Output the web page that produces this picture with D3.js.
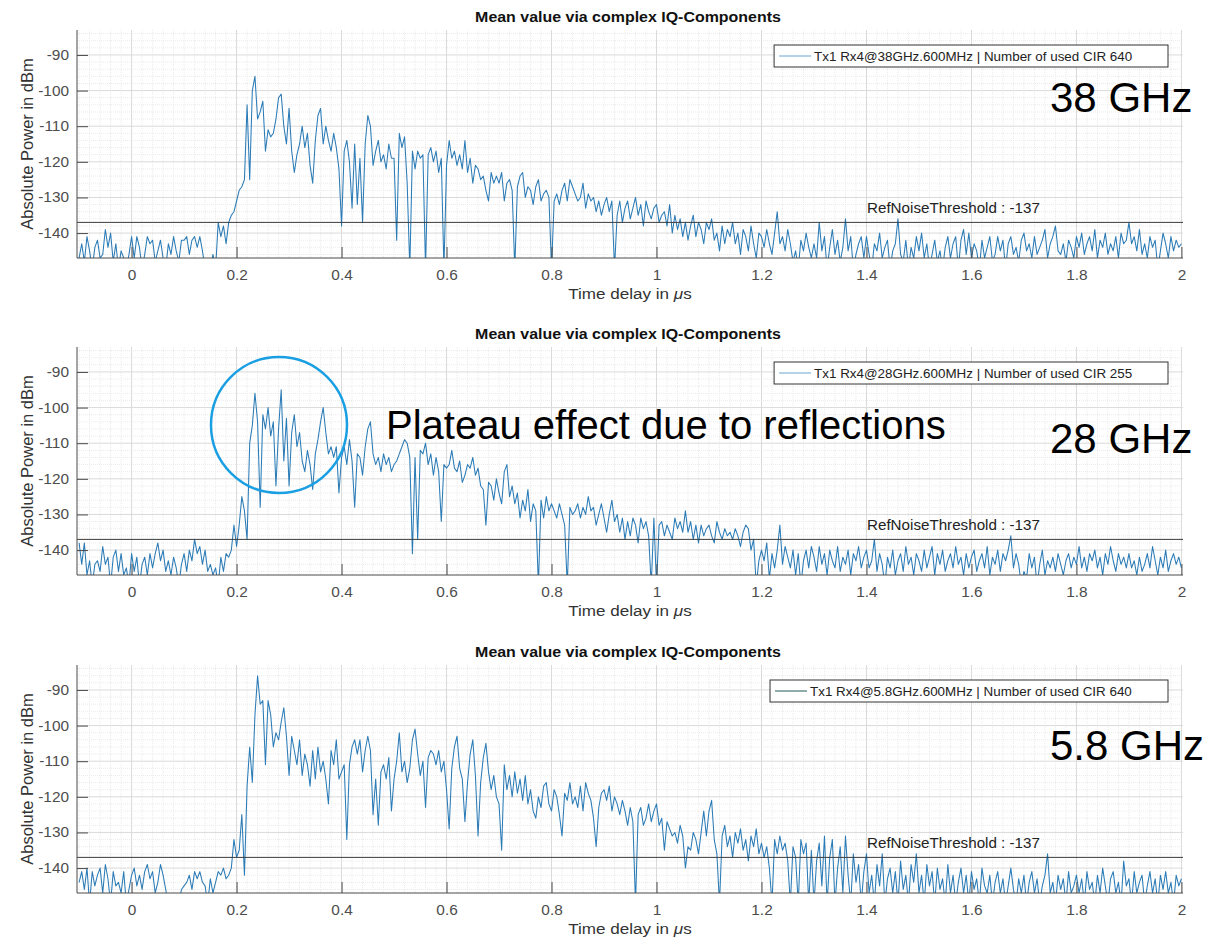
<!DOCTYPE html>
<html><head><meta charset="utf-8">
<script src="https://cdn.jsdelivr.net/npm/d3@7/dist/d3.min.js"></script>
<style>body{margin:0;background:#fff}svg{display:block}</style>
</head><body><svg id="c" width="1207" height="941"></svg>
<script>
// ---------------- DATA ----------------
const timeStart = -0.1;      // first sample, µs
const timeStep = 0.005;      // sample spacing, µs
const xTickValues = [0, 0.2, 0.4, 0.6, 0.8, 1, 1.2, 1.4, 1.6, 1.8, 2];
const xTickLabels = ["0", "0.2", "0.4", "0.6", "0.8", "1", "1.2", "1.4", "1.6", "1.8", "2"];
const yTickValues = [-140, -130, -120, -110, -100, -90];
const yTickLabels = ["-140", "-130", "-120", "-110", "-100", "-90"];
const chartTitle = "Mean value via complex IQ-Components";
const xAxisLabel = "Time delay in ";
const yAxisLabel = "Absolute Power in dBm";
const legendLabels = [
  "Tx1 Rx4@38GHz.600MHz | Number of used CIR 640",
  "Tx1 Rx4@28GHz.600MHz | Number of used CIR 255",
  "Tx1 Rx4@5.8GHz.600MHz | Number of used CIR 640"
];
const bandLabels = ["38 GHz", "28 GHz", "5.8 GHz"];
const noiseThreshold = -137;
const thresholdLabel = "RefNoiseThreshold : -137";
const plateauLabel = "Plateau effect due to reflections";

// 38 GHz power delay profile (dBm), one row per 0.1 µs
const power38 = [
  -147,-143,-148,-141,-145,-150,-144,-142,-147,-146,-139,-144,-140,-148,-143,-150,-145,-147,-150,-146,
  -141,-147,-141,-144,-150,-146,-141,-143,-142,-148,-145,-142,-147,-150,-143,-146,-141,-145,-148,-142,
  -142,-141,-146,-142,-141,-144,-141,-145,-150,-148,-150,-146,-150,-137,-141,-138,-143,-137,-135,-134,
  -131,-128,-127,-125,-104,-125,-100,-96,-108,-106,-103,-117,-111,-113,-112,-108,-102,-101,-110,-115,
  -105,-117,-123,-118,-115,-110,-116,-112,-121,-126,-114,-107,-105,-115,-110,-114,-117,-112,-116,-122,
  -138,-117,-114,-120,-133,-115,-132,-119,-137,-115,-107,-110,-121,-117,-114,-120,-118,-122,-115,-119,
  -119,-142,-112,-116,-113,-126,-150,-117,-122,-117,-119,-118,-150,-118,-116,-120,-117,-123,-119,-150,
  -121,-114,-119,-117,-121,-118,-122,-114,-123,-119,-126,-121,-122,-125,-124,-128,-131,-123,-126,-124,
  -126,-123,-131,-126,-125,-128,-150,-127,-124,-123,-130,-127,-128,-132,-127,-125,-131,-129,-128,-130,
  -150,-131,-129,-132,-128,-126,-131,-125,-127,-129,-131,-130,-126,-133,-129,-131,-130,-134,-131,-135,
  -132,-130,-134,-131,-150,-135,-131,-137,-133,-131,-136,-133,-130,-135,-132,-138,-131,-134,-136,-133,
  -132,-137,-135,-134,-138,-132,-140,-135,-139,-136,-141,-137,-142,-138,-135,-141,-137,-139,-143,-137,
  -139,-136,-142,-140,-145,-138,-143,-139,-141,-137,-143,-140,-146,-139,-141,-145,-138,-143,-147,-140,
  -141,-144,-139,-143,-146,-140,-134,-143,-141,-145,-139,-143,-148,-145,-150,-142,-145,-140,-144,-147,
  -143,-147,-137,-145,-141,-150,-144,-139,-146,-142,-148,-144,-136,-145,-141,-150,-146,-143,-141,-147,
  -141,-146,-150,-143,-145,-140,-147,-144,-142,-150,-145,-143,-136,-146,-148,-142,-150,-144,-147,-141,
  -145,-140,-147,-143,-150,-146,-142,-148,-145,-150,-144,-141,-147,-143,-141,-150,-142,-139,-146,-140,
  -147,-143,-145,-150,-142,-147,-144,-141,-148,-146,-141,-145,-142,-150,-143,-141,-146,-144,-148,-142,
  -140,-145,-143,-147,-141,-146,-144,-142,-139,-147,-143,-141,-138,-145,-146,-143,-148,-142,-144,-147,
  -141,-144,-140,-146,-143,-141,-145,-139,-147,-142,-144,-140,-146,-143,-145,-141,-147,-140,-143,-142,
  -137,-143,-141,-145,-139,-146,-143,-147,-141,-144,-142,-150,-145,-140,-143,-147,-141,-145,-142,-144,
  -143
];

// 28 GHz power delay profile (dBm)
const power28 = [
  -138,-144,-138,-147,-143,-150,-144,-143,-146,-139,-144,-142,-150,-142,-140,-146,-141,-147,-145,-150,
  -141,-146,-142,-150,-144,-142,-147,-141,-145,-141,-138,-143,-140,-146,-143,-147,-142,-145,-150,-144,
  -141,-146,-140,-143,-137,-141,-139,-144,-140,-146,-144,-147,-145,-150,-142,-146,-141,-142,-140,-133,
  -139,-133,-125,-129,-137,-110,-105,-96,-104,-128,-102,-106,-100,-108,-104,-122,-106,-95,-115,-103,
  -122,-107,-102,-111,-107,-115,-118,-112,-116,-123,-113,-109,-104,-100,-107,-113,-111,-114,-111,-124,
  -114,-111,-116,-109,-115,-128,-113,-114,-119,-111,-106,-104,-113,-116,-114,-118,-113,-116,-114,-118,
  -116,-115,-113,-111,-109,-110,-114,-141,-114,-137,-112,-113,-110,-116,-113,-119,-114,-118,-132,-116,
  -117,-116,-112,-117,-118,-115,-121,-119,-116,-117,-114,-119,-117,-122,-123,-133,-121,-122,-126,-120,
  -124,-127,-118,-116,-125,-122,-127,-124,-131,-126,-129,-123,-132,-127,-129,-150,-126,-131,-125,-129,
  -127,-129,-131,-127,-130,-133,-150,-128,-130,-129,-127,-131,-128,-130,-125,-129,-128,-133,-130,-127,
  -131,-135,-130,-126,-132,-130,-135,-131,-137,-132,-136,-131,-133,-138,-131,-134,-132,-136,-150,-131,
  -150,-133,-132,-136,-133,-135,-137,-131,-134,-132,-135,-129,-135,-132,-137,-133,-138,-133,-136,-134,
  -133,-136,-138,-132,-135,-137,-134,-136,-135,-137,-134,-136,-139,-135,-133,-134,-140,-137,-150,-143,
  -140,-143,-138,-148,-141,-145,-140,-133,-144,-139,-142,-145,-140,-147,-141,-150,-143,-140,-145,-139,
  -142,-146,-139,-144,-141,-147,-140,-143,-145,-139,-146,-142,-144,-140,-147,-141,-143,-139,-145,-142,
  -140,-145,-143,-137,-146,-141,-144,-150,-142,-145,-140,-147,-143,-141,-146,-139,-144,-142,-147,-141,
  -143,-146,-140,-145,-142,-139,-147,-141,-144,-140,-146,-143,-141,-145,-139,-144,-142,-147,-141,-145,
  -142,-140,-146,-143,-141,-145,-139,-147,-142,-144,-140,-146,-141,-143,-140,-136,-145,-141,-144,-150,
  -146,-148,-141,-145,-142,-150,-144,-140,-147,-143,-145,-142,-146,-141,-144,-147,-143,-141,-145,-142,
  -144,-139,-145,-142,-146,-141,-143,-140,-145,-142,-147,-141,-144,-139,-143,-146,-141,-144,-142,-145,
  -141,-145,-143,-147,-142,-146,-144,-141,-145,-139,-143,-147,-142,-145,-140,-146,-143,-141,-144,-142,
  -145
];

// 5.8 GHz power delay profile (dBm)
const power58 = [
  -144,-141,-146,-140,-150,-141,-145,-142,-140,-147,-139,-143,-150,-141,-145,-144,-147,-141,-150,-146,
  -142,-140,-145,-142,-146,-141,-139,-143,-141,-147,-144,-139,-142,-146,-150,-150,-148,-150,-150,-146,
  -145,-144,-142,-146,-141,-143,-141,-144,-145,-150,-143,-147,-144,-141,-142,-140,-143,-142,-140,-132,
  -137,-135,-125,-142,-117,-106,-116,-97,-86,-94,-93,-111,-93,-97,-106,-102,-104,-99,-95,-103,
  -114,-103,-107,-111,-104,-114,-108,-111,-117,-107,-115,-106,-113,-110,-115,-122,-107,-111,-104,-115,
  -113,-111,-132,-111,-106,-104,-108,-104,-113,-107,-103,-107,-125,-115,-128,-113,-111,-115,-109,-124,
  -115,-110,-102,-113,-110,-116,-112,-104,-101,-108,-114,-110,-123,-109,-107,-108,-111,-107,-113,-110,
  -118,-129,-112,-106,-103,-112,-115,-127,-116,-108,-104,-114,-131,-116,-109,-105,-113,-118,-114,-120,
  -122,-135,-111,-118,-114,-120,-113,-119,-115,-121,-114,-122,-118,-124,-126,-120,-123,-117,-116,-122,
  -124,-118,-120,-125,-131,-119,-121,-116,-122,-120,-123,-117,-124,-116,-119,-121,-126,-134,-123,-119,
  -118,-121,-117,-124,-120,-122,-125,-121,-124,-128,-123,-127,-150,-125,-123,-128,-126,-122,-127,-124,
  -122,-128,-126,-135,-127,-129,-131,-130,-133,-128,-131,-140,-134,-135,-130,-132,-136,-130,-124,-131,
  -124,-121,-132,-136,-150,-131,-128,-134,-131,-137,-130,-133,-129,-135,-132,-138,-131,-134,-129,-136,
  -133,-137,-134,-140,-150,-132,-136,-131,-135,-133,-138,-150,-134,-137,-150,-132,-136,-133,-150,-135,
  -150,-138,-133,-145,-131,-150,-137,-132,-150,-140,-134,-147,-131,-142,-150,-136,-144,-139,-150,-141,
  -136,-147,-142,-150,-139,-145,-136,-150,-143,-140,-147,-141,-150,-138,-146,-142,-150,-139,-144,-136,
  -147,-142,-150,-139,-145,-141,-150,-140,-146,-143,-150,-139,-147,-142,-150,-144,-140,-147,-142,-150,
  -141,-146,-143,-150,-140,-145,-147,-142,-150,-144,-141,-147,-143,-150,-145,-140,-146,-150,-143,-147,
  -142,-150,-144,-141,-147,-143,-150,-145,-142,-136,-147,-144,-150,-142,-146,-143,-150,-141,-147,-145,
  -142,-147,-143,-150,-141,-146,-144,-150,-142,-147,-140,-145,-150,-143,-141,-147,-144,-150,-138,-145,
  -143,-150,-141,-147,-144,-142,-150,-145,-141,-147,-143,-150,-142,-146,-141,-147,-144,-150,-142,-145,
  -143
];

// ---------------- LAYOUT / STYLE ----------------
const series = [power38, power28, power58];
const panelTops = [30, 347, 665];
const plotH = 228, plotL = 77, plotR = 1183;
const SX = 1.1; // horizontal stretch of the original bitmap text
const traceColor = "#2b7bb6";
const legendColors = ["#6aa6d0", "#6aa6d0", "#1f5a55"];
const font = "'Liberation Sans', Arial, Helvetica, sans-serif";

const svg = d3.select("#c");
svg.append("rect").attr("width", 1207).attr("height", 941).attr("fill", "#fff");

function stretch(sel, f) {
  sel.each(function () {
    const L = this.getComputedTextLength();
    this.setAttribute("textLength", (L * f).toFixed(1));
    this.setAttribute("lengthAdjust", "spacingAndGlyphs");
  });
  return sel;
}

const x = d3.scaleLinear().domain([-0.104, 2.003]).range([plotL, plotR]);
const minorX = d3.range(-100, 2001, 20).map(v => v / 1000).filter(v => Math.abs(Math.round(v * 5) - v * 5) > 1e-6);
const minorY = d3.range(-146, -83, 2).filter(v => v % 10 !== 0);

series.forEach((vals, p) => {
  const top = panelTops[p], bottom = top + plotH;
  const y = d3.scaleLinear().domain([-147, -83]).range([bottom, top]);
  const g = svg.append("g");

  // minor grid
  g.append("g").selectAll("line").data(minorX).join("line")
    .attr("x1", d => x(d)).attr("x2", d => x(d)).attr("y1", top).attr("y2", bottom)
    .attr("stroke", "#ebebeb").attr("stroke-width", 1).attr("stroke-dasharray", "1,1");
  g.append("g").selectAll("line").data(minorY).join("line")
    .attr("x1", plotL).attr("x2", plotR).attr("y1", d => y(d)).attr("y2", d => y(d))
    .attr("stroke", "#ebebeb").attr("stroke-width", 1).attr("stroke-dasharray", "1,1");
  // major grid
  g.append("g").selectAll("line").data(xTickValues).join("line")
    .attr("x1", d => x(d)).attr("x2", d => x(d)).attr("y1", top).attr("y2", bottom)
    .attr("stroke", "#dadada").attr("stroke-width", 1);
  g.append("g").selectAll("line").data(yTickValues).join("line")
    .attr("x1", plotL).attr("x2", plotR).attr("y1", d => y(d)).attr("y2", d => y(d))
    .attr("stroke", "#dadada").attr("stroke-width", 1);

  // clip
  const cid = "clip" + p;
  svg.append("clipPath").attr("id", cid).append("rect")
    .attr("x", plotL).attr("y", top).attr("width", plotR - plotL).attr("height", plotH);

  // trace
  const line = d3.line().x((d, i) => x(timeStart + i * timeStep)).y(d => y(d));
  g.append("path").datum(vals).attr("d", line)
    .attr("fill", "none").attr("stroke", traceColor).attr("stroke-width", 1.05)
    .attr("stroke-linejoin", "round").attr("clip-path", `url(#${cid})`);

  // threshold
  g.append("line").attr("x1", plotL).attr("x2", plotR)
    .attr("y1", y(noiseThreshold)).attr("y2", y(noiseThreshold))
    .attr("stroke", "#3a3a3a").attr("stroke-width", 1);
  stretch(g.append("text").attr("x", 867).attr("y", y(noiseThreshold) - 9)
    .attr("font-family", font).attr("font-size", 13.8).attr("fill", "#222")
    .text(thresholdLabel), SX);

  // axes
  const yAxis = d3.axisLeft(y).tickValues(yTickValues).tickFormat((d, i) => yTickLabels[i])
    .tickSizeInner(-11).tickSizeOuter(0).tickPadding(8);
  const ya = g.append("g").attr("transform", `translate(${plotL},0)`).call(yAxis);
  const xAxis = d3.axisBottom(x).tickValues(xTickValues).tickFormat((d, i) => xTickLabels[i])
    .tickSizeInner(-11).tickSizeOuter(0).tickPadding(19);
  const xa = g.append("g").attr("transform", `translate(0,${bottom})`).call(xAxis);
  [ya, xa].forEach(a => {
    a.select(".domain").attr("stroke", "#4a4a4a");
    a.selectAll(".tick line").attr("stroke", "#4a4a4a");
    a.selectAll(".tick text").attr("font-family", font).attr("font-size", 14).attr("fill", "#4d4d4d");
  });
  ya.select(".domain").attr("d", `M0,${top}V${bottom}`);
  xa.select(".domain").attr("d", `M${plotL},0H${plotR}`);
  ya.selectAll(".tick text").each(function () { stretch(d3.select(this), SX); });
  xa.selectAll(".tick text").attr("dy", "0.2em").each(function () { stretch(d3.select(this), SX); });

  // title
  stretch(g.append("text").attr("x", 628).attr("y", top - 8).attr("text-anchor", "middle")
    .attr("font-family", font).attr("font-size", 14.5).attr("font-weight", "bold").attr("fill", "#111")
    .text(chartTitle), SX);

  // x label
  const xl = g.append("text").attr("x", 630).attr("y", bottom + 41).attr("text-anchor", "middle")
    .attr("font-family", font).attr("font-size", 15.5).attr("fill", "#333");
  xl.append("tspan").text(xAxisLabel);
  xl.append("tspan").attr("font-style", "italic").text("\u03bc");
  xl.append("tspan").text("s");
  stretch(xl, SX);

  // y label
  g.append("text").attr("transform", `translate(33,${top + plotH / 2}) rotate(-90)`)
    .attr("text-anchor", "middle").attr("font-family", font).attr("font-size", 16.5).attr("fill", "#333")
    .text(yAxisLabel);

  // legend
  const lg = g.append("g");
  const box = lg.append("rect");
  const lt = lg.append("text").attr("font-family", font).attr("font-size", 12.2).attr("fill", "#222")
    .text(legendLabels[p]);
  stretch(lt, SX);
  const tw = lt.node().getComputedTextLength() * SX;
  const bRight = 1168, bTop = top + 15, bH = 22;
  const bLeft = bRight - (40 + tw + 4);
  box.attr("x", bLeft).attr("y", bTop).attr("width", bRight - bLeft).attr("height", bH)
    .attr("fill", "#fff").attr("stroke", "#333").attr("stroke-width", 1);
  lt.attr("x", bLeft + 40).attr("y", bTop + 15.5);
  lg.append("line").attr("x1", bLeft + 5).attr("x2", bLeft + 37)
    .attr("y1", bTop + 11).attr("y2", bTop + 11)
    .attr("stroke", legendColors[p]).attr("stroke-width", 1);

  // band label (annotation)
  g.append("text").attr("x", 1050).attr("y", [112, 453, 760][p])
    .attr("font-family", font).attr("font-size", 42).attr("fill", "#000")
    .text(bandLabels[p]);
});

// Plateau annotation on 28 GHz panel
svg.append("circle").attr("cx", 279).attr("cy", 425).attr("r", 68)
  .attr("fill", "none").attr("stroke", "#1a9fe3").attr("stroke-width", 2.5);
svg.append("text").attr("x", 386).attr("y", 439)
  .attr("font-family", font).attr("font-size", 40).attr("fill", "#000")
  .text(plateauLabel);
</script>
</body></html>
